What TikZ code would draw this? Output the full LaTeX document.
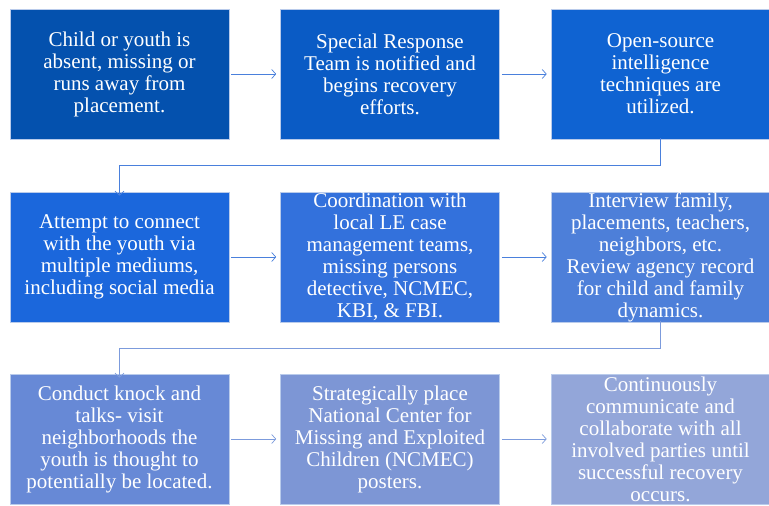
\documentclass[tikz,border=0pt]{standalone}
\usepackage{fontspec}
\setmainfont{Liberation Serif}
\usetikzlibrary{arrows.meta}
\definecolor{cA}{HTML}{0451AE}
\definecolor{cB}{HTML}{0A5BC5}
\definecolor{cC}{HTML}{0F63D2}
\definecolor{cD}{HTML}{1B67DC}
\definecolor{cE}{HTML}{3371DC}
\definecolor{cF}{HTML}{4D7FD9}
\definecolor{cG}{HTML}{6789D6}
\definecolor{cH}{HTML}{7D96D5}
\definecolor{cI}{HTML}{93A6D9}
\definecolor{lineA}{HTML}{4A80DC}
\definecolor{lineB}{HTML}{7C9BDC}
\definecolor{edgeC}{HTML}{B9CBEB}
\tikzset{
  boxnode/.style={draw=edgeC, line width=0.6pt, minimum width=219pt, minimum height=130pt, inner sep=0pt},
  txt/.style={text=white, align=center, inner sep=0pt, font=\fontsize{21}{22}\selectfont},
  conn/.style={line width=0.7pt, -{Straight Barb[length=4pt,width=9pt,line width=0.7pt]}},
}
\begin{document}
\begin{tikzpicture}[x=1pt,y=-1pt]
\useasboundingbox (0,0) rectangle (769,506);
% boxes
\node[boxnode, fill=cA] (b1) at (119.5,74) {};
\node[boxnode, fill=cB] (b2) at (390,74) {};
\node[boxnode, fill=cC] (b3) at (660.5,74) {};
\node[boxnode, fill=cD] (b4) at (119.5,257) {};
\node[boxnode, fill=cE] (b5) at (390,257) {};
\node[boxnode, fill=cF] (b6) at (660.5,257) {};
\node[boxnode, fill=cG] (b7) at (119.5,439) {};
\node[boxnode, fill=cH] (b8) at (390,439) {};
\node[boxnode, fill=cI] (b9) at (660.5,439) {};
% texts
\node[txt] (t1) at (b1.center) {Child or youth is\\absent, missing or\\runs away from\\placement.};
\node[txt] (t2) at (b2.center) {Special Response\\Team is notified and\\begins recovery\\efforts.};
\node[txt] (t3) at (b3.center) {Open-source\\intelligence\\techniques are\\utilized.};
\node[txt] (t4) at (b4.center) {Attempt to connect\\with the youth via\\multiple mediums,\\including social media};
\node[txt] (t5) at (b5.center) {Coordination with\\local LE case\\management teams,\\missing persons\\detective, NCMEC,\\KBI, \& FBI.};
\node[txt] (t6) at (b6.center) {Interview family,\\placements, teachers,\\neighbors, etc.\\Review agency record\\for child and family\\dynamics.};
\node[txt] (t7) at (b7.center) {Conduct knock and\\talks- visit\\neighborhoods the\\youth is thought to\\potentially be located.};
\node[txt] (t8) at (b8.center) {Strategically place\\National Center for\\Missing and Exploited\\Children (NCMEC)\\posters.};
\node[txt] (t9) at (b9.center) {Continuously\\communicate and\\collaborate with all\\involved parties until\\successful recovery\\occurs.};
% connectors
\draw[conn, lineA] ([xshift=2pt]b1.east) -- ([xshift=-4pt]b2.west);
\draw[conn, lineA] ([xshift=2pt]b2.east) -- ([xshift=-4pt]b3.west);
\coordinate (k1) at (660.5,165);
\coordinate (k2) at (119.5,165);
\draw[conn, lineA] ([yshift=1pt]b3.south) -- (k1) -- (k2) -- ([yshift=-4pt]b4.north);
\draw[conn, lineA] ([xshift=2pt]b4.east) -- ([xshift=-4pt]b5.west);
\draw[conn, lineA] ([xshift=2pt]b5.east) -- ([xshift=-4pt]b6.west);
\coordinate (k3) at (660.5,348);
\coordinate (k4) at (119.5,348);
\draw[conn, lineB] ([yshift=1pt]b6.south) -- (k3) -- (k4) -- ([yshift=-4pt]b7.north);
\draw[conn, lineB] ([xshift=2pt]b7.east) -- ([xshift=-4pt]b8.west);
\draw[conn, lineB] ([xshift=2pt]b8.east) -- ([xshift=-4pt]b9.west);
\end{tikzpicture}
\end{document}
